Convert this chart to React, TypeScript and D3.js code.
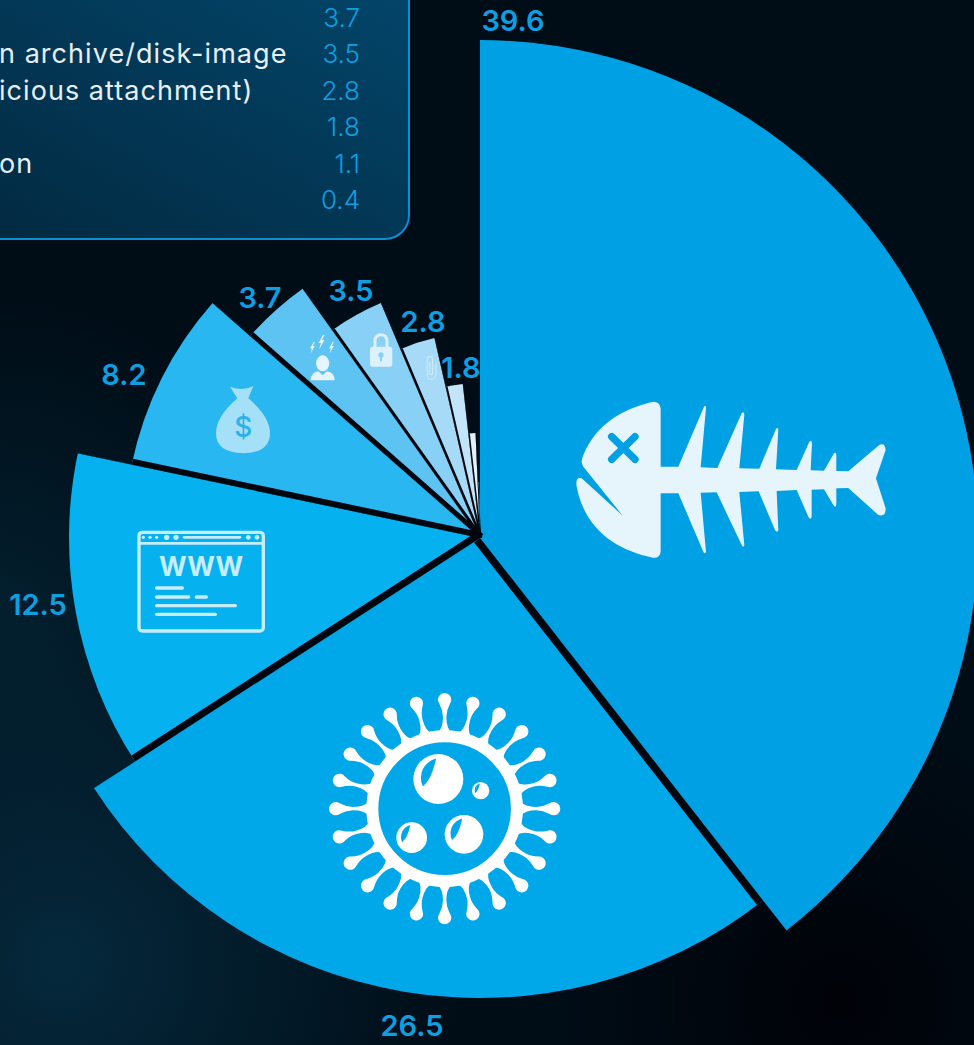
import { useEffect, useRef } from "react";
import * as d3 from "d3";

const W = 974, H = 1045;
const CX = 480, CY = 538;
const FONT = "Inter, 'Open Sans', sans-serif";

// values, biggest first, clockwise from 12 o'clock
const sliceValues = [39.6, 26.5, 12.5, 8.2, 3.7, 3.5, 2.8, 1.8, 1.1, 0.4];
const legendValues = ["3.7", "3.5", "2.8", "1.8", "1.1", "0.4"];
const legendTexts = ["", "n archive/disk-image", "icious attachment)", "", "on", ""];

// styling per rank
const RADII = [498, 460, 411, 356, 306, 255, 205, 155, 105, 56];
const COLORS = ["#00a0e4", "#00a8ea", "#06b1f0", "#28b7f0", "#5cc3f2", "#88d0f5", "#a6daf7", "#c2e5f9", "#dff1fb", "#f2f9fd"];
const GAPS = [7.5, 7, 6, 5, 3, 2.5, 2, 1.5, 1];
const LABEL_POS: [number, number][] = [[513, 31], [412, 1036], [38, 615], [124, 385], [260, 308], [351, 301], [423, 332], [461, 378]];
const LEGEND_Y = [18, 54, 91, 127, 164, 200];

const BG = "#000d17";
const GAP_COLOR = "#00060e";
const LABEL = "#0c9fe2";

const FISH = "M280,65 Q300,65 302,85 L302,260 L355,260 L432,80 Q438,72 438,85 L422,262 L472,264 L545,100 Q553,92 553,105 L538,265 L598,266 L648,147 Q655,140 655,150 L648,268 L710,270 L748,185 Q756,178 756,190 L752,271 L792,272 L822,220 Q829,215 829,225 L829,273 L865,274 L955,197 Q975,185 977,210 L948,295 L977,385 Q978,412 955,405 L865,324 L829,325 L829,375 Q826,385 820,375 L792,328 L755,329 L755,410 Q752,422 745,410 L710,330 L650,333 L655,450 Q652,460 645,450 L596,334 L538,336 L553,495 Q550,505 545,495 L470,337 L422,338 L438,515 Q435,525 430,515 L355,340 L302,340 L302,515 Q300,535 278,533 C170,510 75,450 50,320 Q45,290 65,295 L188,407 L70,260 Q60,245 70,225 C110,130 190,85 280,65 Z";
const BAG = "M90,350 Q130,365 160,348 L145,385 Q210,440 210,490 Q210,548 130,550 Q48,548 48,490 Q48,440 112,385 Z";
const BOLT = "M4,-14 L-5,2 L0,2 L-4,15 L7,-4 L2,-4 L7,-14 Z";

type G = d3.Selection<SVGGElement, unknown, null, undefined>;

function drawFish(g: G) {
  const f = g.append("g").attr("transform", "translate(560,380) scale(0.3333)");
  f.append("path").attr("d", FISH).attr("fill", "#e6f5fc");
  f.append("path").attr("d", "M155,170 L225,238 M225,170 L155,238")
    .attr("stroke", COLORS[0]).attr("stroke-width", 22).attr("stroke-linecap", "round");
}

function drawVirus(g: G) {
  const v = g.append("g").attr("transform", "translate(310,680) scale(0.3333)");
  const c = v.append("g").attr("transform", "translate(404,386)");
  c.append("circle").attr("r", 217).attr("fill", "none").attr("stroke", "#fff").attr("stroke-width", 36);
  for (let i = 0; i < 24; i++) {
    c.append("path")
      .attr("transform", `rotate(${i * 15})`)
      .attr("d", "M-22,-228 Q-5,-240 -5,-275 Q-5,-295 -16,-315 A20,20 0 1 1 16,-315 Q5,-295 5,-275 Q5,-240 22,-228 Z")
      .attr("fill", "#fff");
  }
  const bubbles: [number, number, number][] = [[385, 297, 75], [512, 332, 26], [462, 463, 58], [305, 473, 46]];
  for (const [x, y, r] of bubbles) {
    const b = v.append("g").attr("transform", `translate(${x},${y}) scale(${r})`);
    b.append("circle").attr("r", 1).attr("fill", "#fff");
    b.append("path").attr("d", "M-0.09,-0.82 A0.8,0.8 0 0 0 -0.62,0.3 Q-0.25,0 -0.09,-0.82 Z").attr("fill", COLORS[1]);
  }
}

function drawWindow(g: G) {
  const col = "#c6edfc";
  const w = g.append("g").attr("transform", "translate(120,390) scale(0.3333)");
  w.append("rect").attr("x", 57).attr("y", 427).attr("width", 373).attr("height", 296).attr("rx", 10)
    .attr("fill", "none").attr("stroke", col).attr("stroke-width", 10);
  w.append("line").attr("x1", 57).attr("x2", 430).attr("y1", 460).attr("y2", 460).attr("stroke", col).attr("stroke-width", 8);
  for (const [x, r] of [[70, 5], [90, 5], [110, 5], [140, 8], [168, 8], [385, 7], [411, 7]]) {
    w.append("circle").attr("cx", x).attr("cy", 442).attr("r", r).attr("fill", col);
  }
  const rows = [[192, 360, 442, 8], [110, 187, 594, 10], [110, 206, 621, 10], [229, 259, 621, 10], [110, 346, 647, 10], [110, 286, 673, 10]];
  for (const [x1, x2, y, sw] of rows) {
    w.append("line").attr("x1", x1).attr("x2", x2).attr("y1", y).attr("y2", y)
      .attr("stroke", col).attr("stroke-width", sw).attr("stroke-linecap", "round");
  }
  w.append("text").attr("x", 243).attr("y", 559).attr("text-anchor", "middle")
    .attr("font-family", FONT).attr("font-weight", 700).attr("font-size", 80).attr("fill", col)
    .text("WWW");
}

function drawSmallIcons(g: G) {
  const s = g.append("g").attr("transform", "translate(200,270) scale(0.3333)");

  // money bag
  s.append("path").attr("d", BAG).attr("fill", "#a5e0f9");
  s.append("text").attr("x", 130).attr("y", 500).attr("text-anchor", "middle")
    .attr("font-family", FONT).attr("font-size", 84).attr("font-weight", 500).attr("fill", "#2fb0e8").text("$");

  // stressed person
  const pc = "#e4f5fd";
  s.append("path").attr("d", "M332,331 Q332,308 355,304 L368,316 L381,304 Q404,308 404,331 Z").attr("fill", pc);
  s.append("ellipse").attr("cx", 368).attr("cy", 280).attr("rx", 20).attr("ry", 24).attr("fill", pc);
  for (const [x, y, k] of [[336, 233, 1.2], [363, 216, 1.5], [393, 233, 1.2]]) {
    s.append("path").attr("d", BOLT).attr("transform", `translate(${x},${y}) scale(${k})`).attr("fill", pc);
  }

  // padlock
  const lc = "#dcf1fc";
  s.append("path").attr("d", "M525,232 L525,212 A18,18 0 0 1 561,212 L561,232")
    .attr("fill", "none").attr("stroke", lc).attr("stroke-width", 9);
  s.append("rect").attr("x", 510).attr("y", 230).attr("width", 67).attr("height", 60).attr("rx", 8).attr("fill", lc);
  s.append("circle").attr("cx", 543).attr("cy", 255).attr("r", 8).attr("fill", COLORS[5]);
  s.append("rect").attr("x", 540).attr("y", 255).attr("width", 6).attr("height", 19).attr("fill", COLORS[5]);

  // paperclip
  s.append("path")
    .attr("d", "M708,280 L708,315 A13,13 0 0 1 682,315 L682,268 A8,8 0 0 1 698,268 L698,310 A4,4 0 0 1 690,310 L690,275")
    .attr("fill", "none").attr("stroke", "#d2ecfa").attr("stroke-width", 3.5).attr("opacity", 0.85);
}

export default function App() {
  const svgRef = useRef<SVGSVGElement>(null);

  useEffect(() => {
    if (!svgRef.current) return;
    const svg = d3.select(svgRef.current);
    svg.selectAll("*").remove();

    const defs = svg.append("defs");
    const glow = (id: string, cx: number, cy: number, r: number, color: string, op: number) => {
      const g = defs.append("radialGradient").attr("id", id).attr("gradientUnits", "userSpaceOnUse")
        .attr("cx", cx).attr("cy", cy).attr("r", r);
      g.append("stop").attr("offset", "0%").attr("stop-color", color).attr("stop-opacity", op);
      g.append("stop").attr("offset", "100%").attr("stop-color", color).attr("stop-opacity", 0);
    };
    glow("glow-left", 60, 960, 400, "#05293c", 1);
    glow("glow-mid", 0, 600, 300, "#03202f", 0.9);
    glow("glow-dark", 840, 1000, 300, "#000208", 1);
    const box = defs.append("linearGradient").attr("id", "legend-bg").attr("x1", "100%").attr("y1", "0%").attr("x2", "10%").attr("y2", "100%");
    box.append("stop").attr("offset", "0%").attr("stop-color", "#03476c");
    box.append("stop").attr("offset", "100%").attr("stop-color", "#022a42");

    svg.append("rect").attr("width", W).attr("height", H).attr("fill", BG);
    for (const id of ["glow-mid", "glow-left", "glow-dark"]) {
      svg.append("rect").attr("width", W).attr("height", H).attr("fill", `url(#${id})`);
    }

    // Legend box, running off the top left of the picture
    svg.append("rect").attr("x", -40).attr("y", -40).attr("width", 449).attr("height", 279).attr("rx", 24)
      .attr("fill", "url(#legend-bg)").attr("stroke", "#0a8fcf").attr("stroke-width", 2);
    legendValues.forEach((v, i) => {
      svg.append("text").attr("x", 360).attr("y", LEGEND_Y[i] + 9).attr("text-anchor", "end")
        .attr("font-family", FONT).attr("font-weight", 300).attr("font-size", 26).attr("fill", LABEL).text(v);
      if (legendTexts[i]) {
        svg.append("text").attr("x", -1).attr("y", LEGEND_Y[i] + 9)
          .attr("font-family", FONT).attr("font-weight", 400).attr("font-size", 27)
          .attr("letter-spacing", 1.05).attr("fill", "#e6eff5").text(legendTexts[i]);
      }
    });

    // Pie: the source leaves about a degree unused at the top
    const pie = d3.pie<number>().sort(null).value(d => d).endAngle((359 / 360) * 2 * Math.PI);
    const arcs = pie(sliceValues);
    const arc = d3.arc<d3.PieArcDatum<number>>().innerRadius(0);
    const chart = svg.append("g").attr("transform", `translate(${CX},${CY})`);

    const clip = defs.append("clipPath").attr("id", "pie-clip");
    const slicePath = (d: d3.PieArcDatum<number>, i: number) => arc.outerRadius(RADII[i])(d) as string;
    arcs.forEach((d, i) => clip.append("path").attr("d", slicePath(d, i)));

    chart.selectAll("path.slice").data(arcs).join("path")
      .attr("class", "slice")
      .attr("d", slicePath)
      .attr("fill", (_, i) => COLORS[i]);

    // Dark separators, cut out of the slice that follows each boundary
    const seps = chart.append("g").attr("clip-path", "url(#pie-clip)");
    arcs.slice(0, -1).forEach((d, i) => {
      const a = d.endAngle, r = RADII[i] + 10;
      const ox = (GAPS[i] / 2) * Math.cos(a), oy = (GAPS[i] / 2) * Math.sin(a);
      seps.append("line")
        .attr("x1", ox).attr("y1", oy)
        .attr("x2", r * Math.sin(a) + ox).attr("y2", -r * Math.cos(a) + oy)
        .attr("stroke", GAP_COLOR).attr("stroke-width", GAPS[i]);
    });

    drawFish(svg);
    drawVirus(svg);
    drawWindow(svg);
    drawSmallIcons(svg);

    // Value labels
    LABEL_POS.forEach(([x, y], i) => {
      svg.append("text").attr("x", x).attr("y", y).attr("text-anchor", "middle")
        .attr("font-family", FONT).attr("font-weight", 600).attr("font-size", 29).attr("fill", LABEL)
        .text(sliceValues[i].toFixed(1));
    });
  }, []);

  return <svg ref={svgRef} width={W} height={H} style={{ position: "absolute", left: 0, top: 0, display: "block" }} />;
}
